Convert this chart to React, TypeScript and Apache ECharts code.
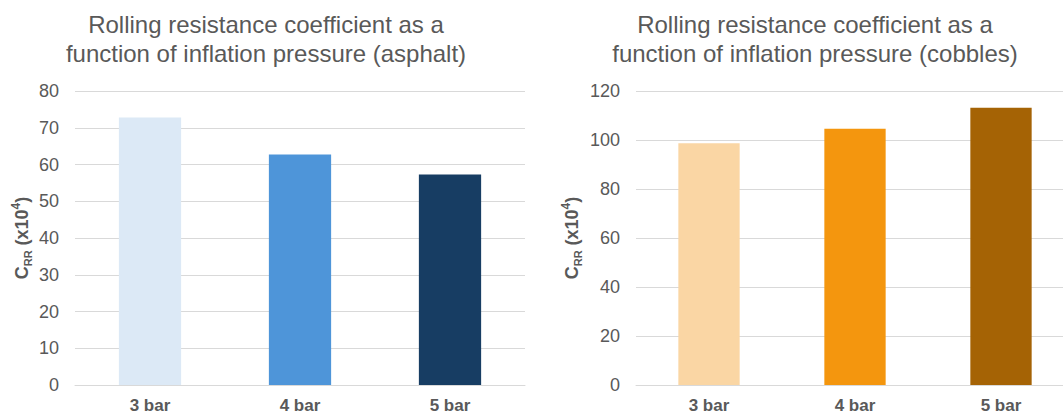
import React, { useEffect, useRef } from "react";
import * as echarts from "echarts";

const categories = ["3 bar", "4 bar", "5 bar"];
const asphaltValues = [72.8, 62.7, 57.3];
const cobblesValues = [98.7, 104.6, 113.2];
const asphaltColors = ["#DCE9F6", "#4E95D9", "#173D63"];
const cobblesColors = ["#FAD6A4", "#F4960E", "#A56305"];
const asphaltTicks = { min: 0, max: 80, interval: 10 };
const cobblesTicks = { min: 0, max: 120, interval: 20 };
const titleAsphalt = "Rolling resistance coefficient as a\nfunction of inflation pressure (asphalt)";
const titleCobbles = "Rolling resistance coefficient as a\nfunction of inflation pressure (cobbles)";
const yName = "{c|C}{s|RR}{c| (x10}{p|4}{c|)}";

const FONT = "'Liberation Sans', Arial, sans-serif";
const GREY = "#595959";
const GRID = "#D9D9D9";

function xAxisCfg(gridIndex: number) {
  return {
    type: "category",
    gridIndex,
    data: categories,
    axisTick: { show: false },
    axisLine: { show: true, lineStyle: { color: GRID, width: 1 } },
    axisLabel: { color: GREY, fontSize: 17, fontWeight: "bold", fontFamily: FONT, margin: 12 },
  };
}

function yAxisCfg(gridIndex: number, ticks: { min: number; max: number; interval: number }, nameGap: number) {
  return {
    type: "value",
    gridIndex,
    min: ticks.min,
    max: ticks.max,
    interval: ticks.interval,
    name: yName,
    nameLocation: "middle",
    nameRotate: 90,
    nameGap,
    nameTextStyle: {
      rich: {
        c: { fontSize: 18, fontWeight: "bold", color: GREY, fontFamily: FONT, lineHeight: 23 },
        s: { fontSize: 11, fontWeight: "bold", color: GREY, fontFamily: FONT, verticalAlign: "bottom" },
        p: { fontSize: 12, fontWeight: "bold", color: GREY, fontFamily: FONT, verticalAlign: "top" },
      },
    },
    axisLine: { show: false },
    axisTick: { show: false },
    splitLine: { show: true, lineStyle: { color: GRID, width: 1 } },
    axisLabel: { color: GREY, fontSize: 18, fontFamily: FONT, margin: 16 },
  };
}

export default function App() {
  const ref = useRef<HTMLDivElement>(null);
  useEffect(() => {
    if (!ref.current) return;
    const chart = echarts.init(ref.current, undefined, { renderer: "svg" });
    const titleStyle = { fontSize: 24, fontWeight: "normal", color: GREY, fontFamily: FONT, lineHeight: 29 };
    chart.setOption({
      animation: false,
      backgroundColor: "#ffffff",
      title: [
        { text: titleAsphalt, left: 266, top: 10, textAlign: "center", padding: 0, textStyle: titleStyle },
        { text: titleCobbles, left: 815, top: 10, textAlign: "center", padding: 0, textStyle: titleStyle },
      ],
      grid: [
        { left: 75, width: 450, top: 91, bottom: 29 },
        { left: 636, width: 438, top: 91, bottom: 29 },
      ],
      xAxis: [xAxisCfg(0), xAxisCfg(1)],
      yAxis: [yAxisCfg(0, asphaltTicks, 42), yAxisCfg(1, cobblesTicks, 53)],
      series: [
        {
          type: "bar",
          xAxisIndex: 0,
          yAxisIndex: 0,
          barWidth: "41.5%",
          data: asphaltValues.map((v, i) => ({ value: v, itemStyle: { color: asphaltColors[i] } })),
        },
        {
          type: "bar",
          xAxisIndex: 1,
          yAxisIndex: 1,
          barWidth: "42%",
          data: cobblesValues.map((v, i) => ({ value: v, itemStyle: { color: cobblesColors[i] } })),
        },
      ],
    });
    return () => chart.dispose();
  }, []);
  return (
    <div style={{ position: "absolute", left: 0, top: 0, width: 1063, height: 414, overflow: "hidden" }}>
      <div ref={ref} style={{ width: 1090, height: 414 }} />
    </div>
  );
}
